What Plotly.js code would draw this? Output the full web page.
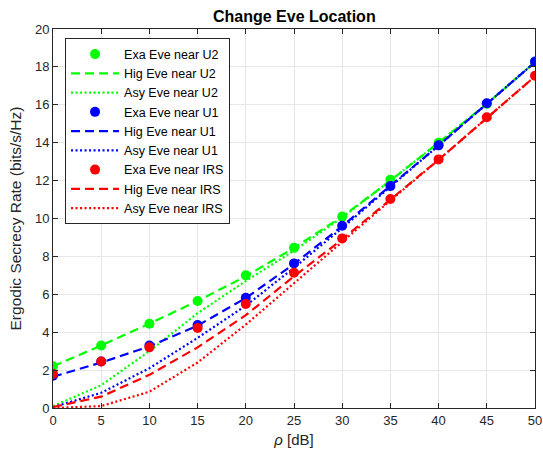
<!DOCTYPE html>
<html>
<head>
<meta charset="utf-8">
<script src="https://cdn.plot.ly/plotly-3.0.1.min.js"></script>
<style>html,body{margin:0;padding:0;background:#fff;}#chart{width:543px;height:458px;}</style>
</head>
<body>
<div id="chart"></div>
<script>
const rho = [0, 5, 10, 15, 20, 25, 30, 35, 40, 45, 50];
const exaU2 = [2.2, 3.3, 4.45, 5.65, 7.0, 8.45, 10.1, 12.05, 14.0, 16.05, 18.25];
const higU2 = [2.2, 3.3, 4.45, 5.65, 6.95, 8.45, 10.1, 12.0, 14.0, 16.05, 18.25];
const asyU2 = [0.1, 1.2, 3.0, 5.0, 6.7, 8.3, 10.05, 12.0, 14.0, 16.05, 18.25];
const exaU1 = [1.7, 2.45, 3.3, 4.38, 5.82, 7.63, 9.62, 11.71, 13.86, 16.08, 18.28];
const higU1 = [1.65, 2.4, 3.25, 4.35, 5.8, 7.6, 9.6, 11.7, 13.85, 16.05, 18.25];
const asyU1 = [0.05, 0.8, 2.1, 3.7, 5.4, 7.4, 9.5, 11.65, 13.85, 16.05, 18.25];
const exaIRS = [1.8, 2.45, 3.2, 4.22, 5.49, 7.14, 8.95, 11.03, 13.12, 15.34, 17.53];
const higIRS = [0.05, 0.6, 1.75, 3.2, 4.9, 6.95, 8.9, 11.0, 13.1, 15.3, 17.5];
const asyIRS = [0.0, 0.1, 0.86, 2.4, 4.4, 6.6, 8.8, 10.95, 13.1, 15.3, 17.5];
const names = ["Exa Eve near U2","Hig Eve near U2","Asy Eve near U2",
               "Exa Eve near U1","Hig Eve near U1","Asy Eve near U1",
               "Exa Eve near IRS","Hig Eve near IRS","Asy Eve near IRS"];
const xTicks = [0, 5, 10, 15, 20, 25, 30, 35, 40, 45, 50];
const yTicks = [0, 2, 4, 6, 8, 10, 12, 14, 16, 18, 20];

const G = "#00ff00", B = "#0000ff", R = "#ff0000";
const DASH = "9px,5px", DOT = "2px,2.5px";
function exa(y, c, n){ return {x: rho, y: y, name: n, mode: "markers", type: "scatter", marker: {color: c, size: 10}}; }
function ln(y, c, n, d){ return {x: rho, y: y, name: n, mode: "lines", type: "scatter", line: {color: c, width: 2.2, dash: d}}; }

const data = [
  exa(exaU2, G, names[0]), ln(higU2, G, names[1], DASH), ln(asyU2, G, names[2], DOT),
  exa(exaU1, B, names[3]), ln(higU1, B, names[4], DASH), ln(asyU1, B, names[5], DOT),
  exa(exaIRS, R, names[6]), ln(higIRS, R, names[7], DASH), ln(asyIRS, R, names[8], DOT)
];

const FONT = "Liberation Sans, Arial, sans-serif";
const axisCommon = {
  showline: true, mirror: "ticks", linecolor: "#262626", linewidth: 1,
  ticks: "inside", ticklen: 5, tickcolor: "#262626",
  showgrid: true, gridcolor: "#e6e6e6", gridwidth: 1, zeroline: false,
  ticklabeloverflow: "allow",
  tickfont: {family: FONT, size: 13, color: "#262626"}
};

const layout = {
  width: 543, height: 458,
  margin: {l: 53, r: 8, t: 29, b: 50},
  paper_bgcolor: "#ffffff", plot_bgcolor: "#ffffff",
  font: {family: FONT, color: "#262626"},
  title: {text: "<b>Change Eve Location</b>", font: {family: FONT, size: 16, color: "#000"}, x: 0.542, xanchor: "center", y: 0.964, yanchor: "middle"},
  xaxis: Object.assign({}, axisCommon, {
    range: [0, 50], tickmode: "array", tickvals: xTicks,
    title: {text: "<i>ρ</i> [dB]", font: {family: FONT, size: 15, color: "#262626"}, standoff: 7}
  }),
  yaxis: Object.assign({}, axisCommon, {
    range: [0, 20], tickmode: "array", tickvals: yTicks,
    title: {text: "Ergodic Secrecy Rate (bits/s/Hz)", font: {family: FONT, size: 15.5, color: "#262626"}, standoff: 9}
  }),
  showlegend: true,
  legend: {
    x: 0.025, y: 0.975, xanchor: "left", yanchor: "top",
    bgcolor: "#ffffff", bordercolor: "#262626", borderwidth: 1,
    font: {family: FONT, size: 12.5, color: "#000"}, tracegroupgap: 0, itemwidth: 48
  }
};

Plotly.newPlot("chart", data, layout, {displayModeBar: false, staticPlot: true});
</script>
</body>
</html>
